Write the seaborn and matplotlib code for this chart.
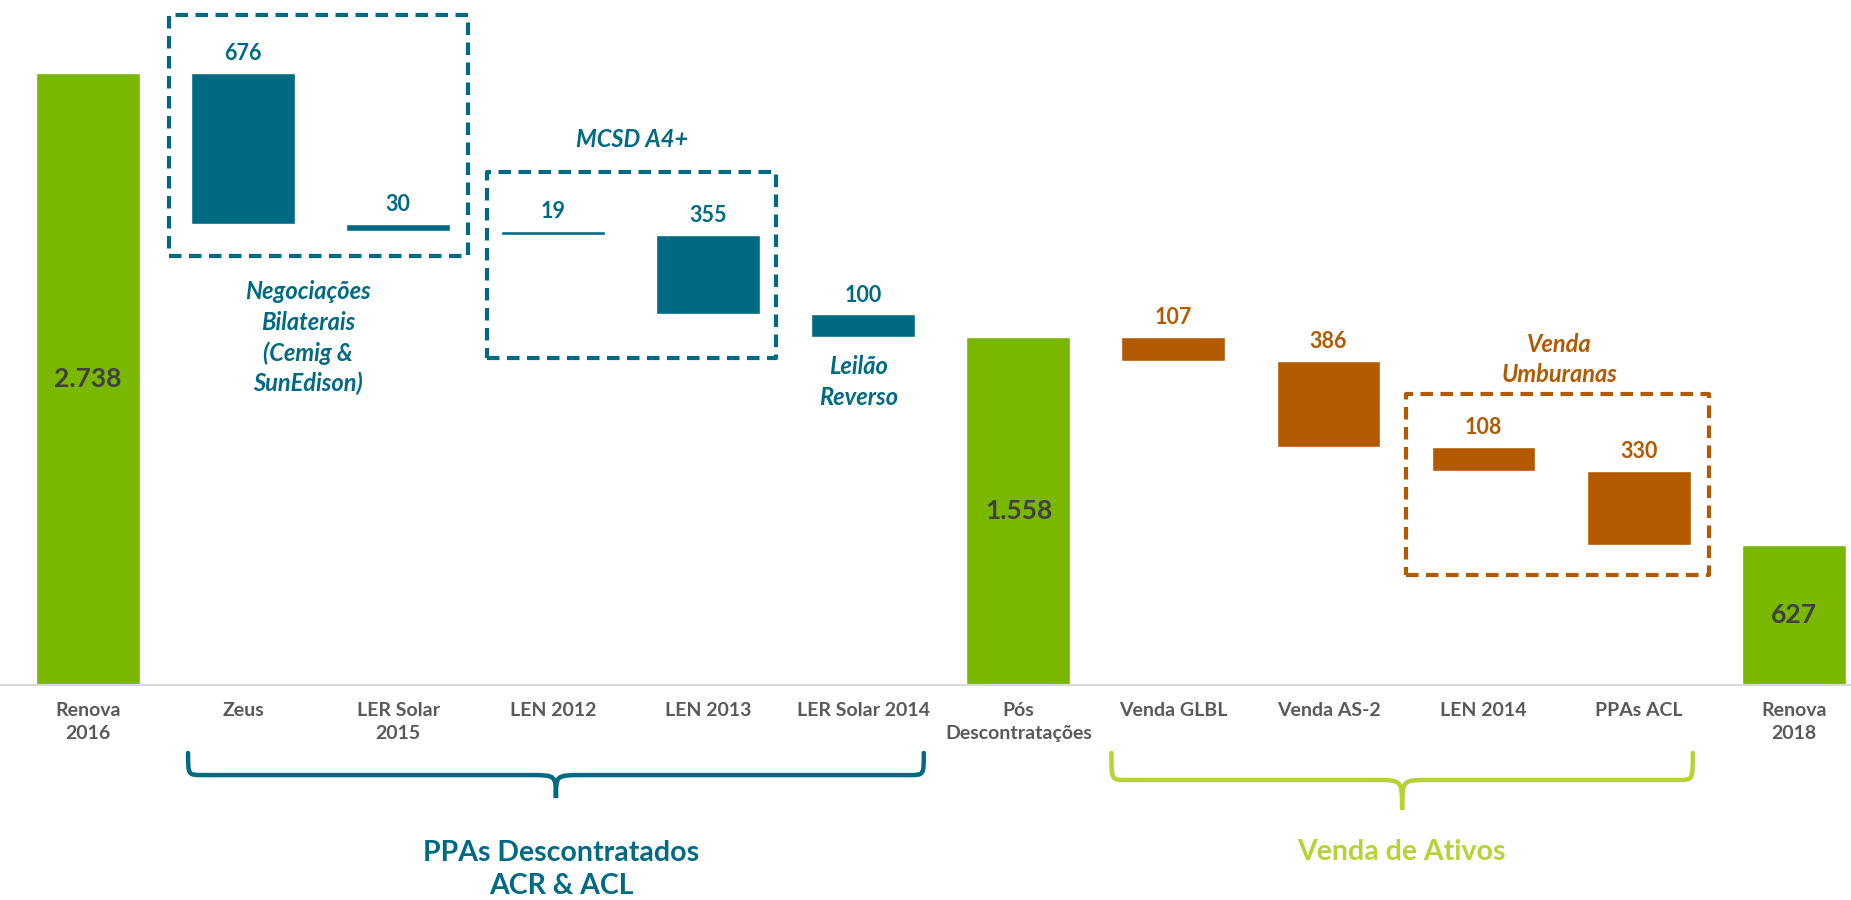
import pandas as pd
import seaborn as sns
import matplotlib.pyplot as plt
from matplotlib.patches import Rectangle, PathPatch
from matplotlib.path import Path

sns.set_theme(style="white")
plt.rcParams['font.family'] = ['Lato', 'DejaVu Sans']

# dados do gráfico (MW médios)
categorias = ["Renova\n2016", "Zeus", "LER Solar\n2015", "LEN 2012", "LEN 2013",
              "LER Solar 2014", "Pós\nDescontratações", "Venda GLBL", "Venda AS-2",
              "LEN 2014", "PPAs ACL", "Renova\n2018"]
valores = [2738, -676, -30, -19, -355, -100, 1558, -107, -386, -108, -330, 627]
grupos = ["total", "desc", "desc", "desc", "desc", "desc",
          "total", "venda", "venda", "venda", "venda", "total"]

VERDE = "#7AB800"
AZUL = "#006A83"
LARANJA = "#B35900"
VERDE_CLARO = "#B5D334"
cores_grupo = {"total": VERDE, "desc": AZUL, "venda": LARANJA}

# monta base e altura de cada barra da cascata
bases, alturas = [], []
acumulado = 0
for v, g in zip(valores, grupos):
    if g == "total":
        bases.append(0)
        alturas.append(v)
        acumulado = v
    else:
        acumulado += v
        bases.append(acumulado)
        alturas.append(-v)

df = pd.DataFrame({"categoria": categorias, "base": bases, "altura": alturas, "grupo": grupos})
paleta = {c: cores_grupo[g] for c, g in zip(categorias, grupos)}

fig = plt.figure(figsize=(18.51, 9), dpi=100)
ax = fig.add_axes([0, 215 / 900, 1, 685 / 900])

sns.barplot(data=df, x="categoria", y="altura", hue="categoria", palette=paleta,
            width=0.67, saturation=1, legend=False, ax=ax)
for patch, b in zip(ax.patches, df["base"]):
    patch.set_y(b)

ax.set_xlim(-0.568, 11.37)
ax.set_ylim(0, 3065)
ax.set_xlabel("")
ax.set_ylabel("")
ax.set_yticks([])
for s in ["left", "right", "top"]:
    ax.spines[s].set_visible(False)
ax.spines["bottom"].set_color("#D9D9D9")
ax.spines["bottom"].set_linewidth(1.6)
ax.tick_params(axis="x", length=0, pad=12)
ax.set_xticks(range(len(categorias)))
ax.set_xticklabels(categorias, fontsize=14, fontweight="bold", color="#595959", linespacing=1.45)

# rótulos de valores
for i, row in df.iterrows():
    if row["grupo"] == "total":
        txt = f"{row['altura']:,}".replace(",", ".")
        ax.text(i, row["altura"] / 2, txt, ha="center", va="center",
                fontsize=19, fontweight="bold", color="#404040")
    else:
        ax.annotate(str(row["altura"]), (i, row["base"] + row["altura"]),
                    xytext=(0, 14), textcoords="offset points", ha="center", va="center",
                    fontsize=15.5, fontweight="bold", color=cores_grupo[row["grupo"]])

# caixas tracejadas
caixas = [((0.523, 1919), 1.929, 1079, AZUL),
          ((2.574, 1463), 1.865, 832, AZUL),
          ((8.503, 492), 1.949, 810, LARANJA)]
for (x0, y0), w, h, cor in caixas:
    ax.add_patch(Rectangle((x0, y0), w, h, fill=False, edgecolor=cor, linewidth=3,
                           linestyle=(0, (3, 1.8)), joinstyle="round", clip_on=False))

# anotações em itálico
notas = [(1.42, 1553, "Negociações\nBilaterais\n(Cemig &\nSunEdison)", AZUL),
         (3.51, 2443, "MCSD A4+", AZUL),
         (4.97, 1356, "Leilão\nReverso", AZUL),
         (9.49, 1456, "Venda\nUmburanas", LARANJA)]
for x, y, txt, cor in notas:
    ax.text(x, y, txt, ha="center", va="center", fontsize=17, fontweight="bold",
            fontstyle="italic", color=cor, linespacing=1.38)


def chave(x0, x1, ytopo, ymeio, yponta, cor):
    xc = (x0 + x1) / 2
    dx = 0.09
    w = 0.17
    verts = [(x0, ytopo), (x0, ymeio), (x0, ymeio), (x0 + dx, ymeio),
             (xc - w, ymeio),
             (xc, ymeio), (xc, ymeio), (xc, yponta),
             (xc, ymeio), (xc, ymeio), (xc + w, ymeio),
             (x1 - dx, ymeio),
             (x1, ymeio), (x1, ymeio), (x1, ytopo)]
    codes = [Path.MOVETO, Path.CURVE4, Path.CURVE4, Path.CURVE4,
             Path.LINETO,
             Path.CURVE4, Path.CURVE4, Path.CURVE4,
             Path.CURVE4, Path.CURVE4, Path.CURVE4,
             Path.LINETO,
             Path.CURVE4, Path.CURVE4, Path.CURVE4]
    ax.add_patch(PathPatch(Path(verts, codes), fill=False, edgecolor=cor,
                           linewidth=3.2, capstyle="round", clip_on=False))


chave(0.645, 5.39, -304, -403, -506, AZUL)
chave(6.6, 10.35, -304, -425, -559, VERDE_CLARO)

ax.text(3.05, -825, "PPAs Descontratados\nACR & ACL", ha="center", va="center",
        fontsize=20.5, fontweight="bold", color=AZUL, linespacing=1.33, clip_on=False)
ax.text(8.47, -747, "Venda de Ativos", ha="center", va="center",
        fontsize=20.5, fontweight="bold", color=VERDE_CLARO, clip_on=False)

fig.savefig("out.png", dpi=100)
